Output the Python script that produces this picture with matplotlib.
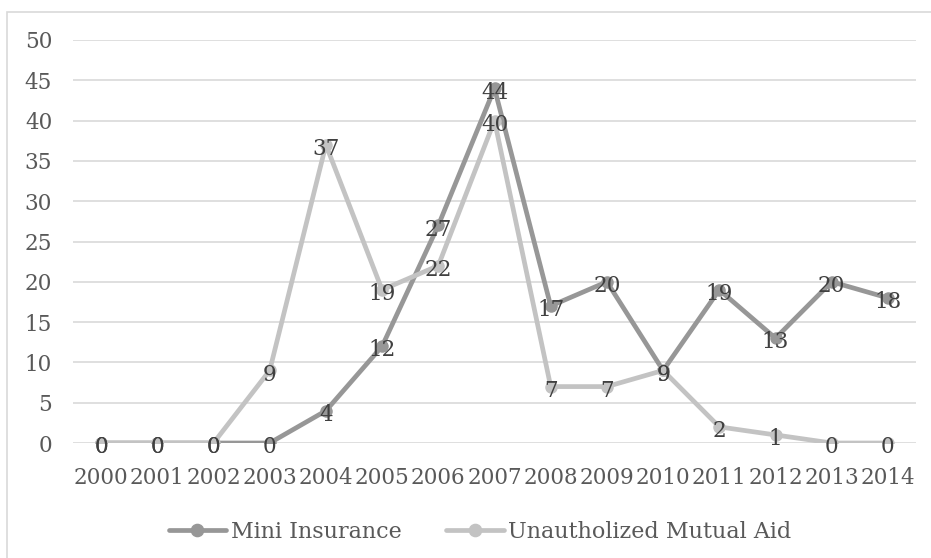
import matplotlib.pyplot as plt
from matplotlib.patches import Rectangle

plt.rcParams['font.family'] = ['DejaVu Serif']

years = ['2000', '2001', '2002', '2003', '2004', '2005', '2006', '2007',
         '2008', '2009', '2010', '2011', '2012', '2013', '2014']
mini_insurance = [0, 0, 0, 0, 4, 12, 27, 44, 17, 20, 9, 19, 13, 20, 18]
mutual_aid = [0, 0, 0, 9, 37, 19, 22, 40, 7, 7, 9, 2, 1, 0, 0]

fig = plt.figure(figsize=(9.31, 5.58), dpi=100)
ax = fig.add_axes([73 / 931, 1 - 443 / 558, 843 / 931, 403 / 558])

x = list(range(len(years)))
series = [
    ('Mini Insurance', mini_insurance, '#979797'),
    ('Unautholized Mutual Aid', mutual_aid, '#c3c3c3'),
]
for name, vals, col in series:
    ax.plot(x, vals, color=col, lw=3.4, marker='o', ms=8, label=name,
            solid_capstyle='round', zorder=3)

# value labels sit on each point, nudged a little lower
for name, vals, col in series:
    for xi, v in zip(x, vals):
        ax.annotate(str(v), (xi, v), xytext=(0, -3), textcoords='offset points',
                    ha='center', va='center', fontsize=15.5,
                    color='#404040', zorder=5)

ax.set_xlim(-0.5, len(years) - 0.5)
ax.set_ylim(0, 50)
ax.set_yticks(range(0, 51, 5))
ax.set_xticks(x)
ax.set_xticklabels(years)
ax.tick_params(axis='both', length=0, labelsize=15.5, labelcolor='#595959')
ax.tick_params(axis='y', pad=15)
ax.tick_params(axis='x', pad=17)
ax.grid(axis='y', color='#d9d9d9', lw=1.2)
ax.set_axisbelow(True)
for s in ax.spines.values():
    s.set_visible(False)

leg = fig.legend(loc='center', bbox_to_anchor=(480 / 931, 1 - 532 / 558),
                 ncol=2, frameon=False, fontsize=16, handlelength=2.6,
                 columnspacing=2.0, handletextpad=0.2, markerscale=1.1)
for t in leg.get_texts():
    t.set_color('#595959')

# chart border
fig.patches.append(Rectangle((7 / 931, -0.01), 1.0, 1 - 12 / 558 + 0.01,
                             transform=fig.transFigure, fill=False,
                             edgecolor='#d9d9d9', lw=1.2))

fig.savefig('out.png', dpi=100)
